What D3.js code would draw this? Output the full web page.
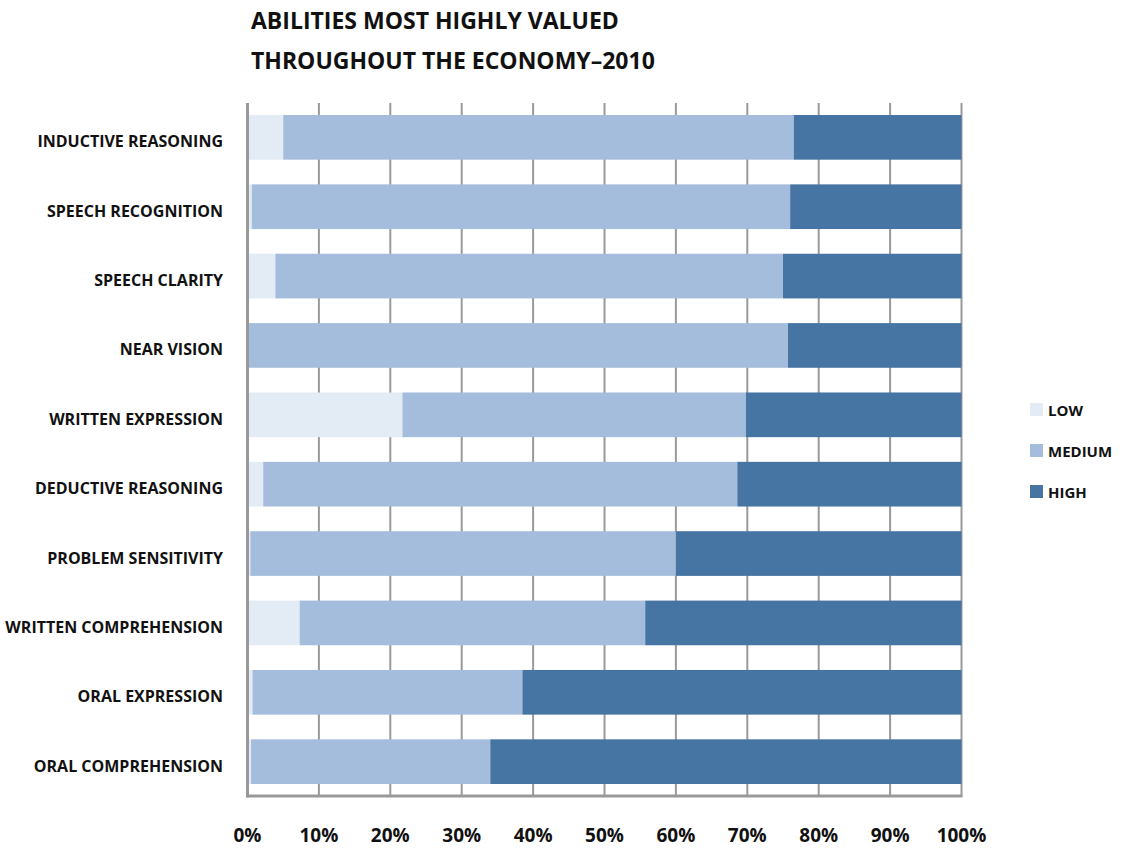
<!DOCTYPE html>
<html><head><meta charset="utf-8">
<script src="https://cdn.jsdelivr.net/npm/d3@7"></script>
<style>body{margin:0;background:#fff}svg{display:block}text{font-family:"Open Sans","DejaVu Sans",sans-serif;font-weight:700;fill:#111}</style>
</head><body><svg id="c" width="1122" height="849"></svg>
<script>
const categories = ["INDUCTIVE REASONING","SPEECH RECOGNITION","SPEECH CLARITY","NEAR VISION","WRITTEN EXPRESSION","DEDUCTIVE REASONING","PROBLEM SENSITIVITY","WRITTEN COMPREHENSION","ORAL EXPRESSION","ORAL COMPREHENSION"];
const low    = [5.0, 0.6, 3.9, 0.0, 21.7, 2.2, 0.4, 7.3, 0.7, 0.5];
const medium = [71.5, 75.4, 71.1, 75.7, 48.1, 66.4, 59.6, 48.4, 37.8, 33.5];
const high   = [23.5, 24.0, 25.0, 24.3, 30.2, 31.4, 40.0, 44.3, 61.5, 66.0];
const seriesNames = ["LOW","MEDIUM","HIGH"];
const colors = ["#e3ebf4","#a4bddc","#4675a4"];
const tickValues = [0,10,20,30,40,50,60,70,80,90,100];
const titleLines = ["ABILITIES MOST HIGHLY VALUED","THROUGHOUT THE ECONOMY\u20132010"];

const svg = d3.select("#c");
const x = d3.scaleLinear().domain([0,100]).range([247.5,961.5]);
const y = d3.scaleBand().domain(categories).range([103,796]).paddingInner(0.356).paddingOuter(0.173);

// gridlines
svg.append("g").selectAll("line").data(tickValues.slice(1)).join("line")
  .attr("x1",d=>x(d)).attr("x2",d=>x(d)).attr("y1",103).attr("y2",796)
  .attr("stroke","#9a9a9a").attr("stroke-width",2);

// stacked bars
const rows = categories.map((c,i)=>({cat:c, LOW:low[i], MEDIUM:medium[i], HIGH:high[i]}));
const stack = d3.stack().keys(seriesNames)(rows);
svg.append("g").selectAll("g").data(stack).join("g")
  .attr("fill",(d,i)=>colors[i])
  .selectAll("rect").data(d=>d).join("rect")
  .attr("x",d=>x(d[0])).attr("width",d=>x(d[1])-x(d[0]))
  .attr("y",d=>y(d.data.cat)).attr("height",y.bandwidth());

// axes lines
svg.append("line").attr("x1",x(0)).attr("x2",x(0)).attr("y1",103).attr("y2",797.5).attr("stroke","#999").attr("stroke-width",3);
svg.append("line").attr("x1",x(0)-1.5).attr("x2",x(100)+1).attr("y1",796).attr("y2",796).attr("stroke","#999").attr("stroke-width",3);

// x tick labels
svg.append("g").selectAll("text").data(tickValues).join("text")
  .attr("x",d=>x(d)).attr("y",842).attr("text-anchor","middle")
  .style("font-size","19px").text(d=>d+"%");

// category labels
svg.append("g").selectAll("text").data(categories).join("text")
  .attr("x",223).attr("y",d=>y(d)+y.bandwidth()/2+10).attr("text-anchor","end")
  .style("font-size","16px").text(d=>d);

// title
svg.append("g").selectAll("text").data(titleLines).join("text")
  .attr("x",251).attr("y",(d,i)=>29+i*40).style("font-size","23px").text(d=>d);

// legend
const lg = svg.append("g").selectAll("g").data(seriesNames).join("g")
  .attr("transform",(d,i)=>`translate(1030,${403+i*41})`);
lg.append("rect").attr("width",13).attr("height",13).attr("fill",(d,i)=>colors[i]);
lg.append("text").attr("x",18).attr("y",12.5).style("font-size","15px").text(d=>d);
</script></body></html>
